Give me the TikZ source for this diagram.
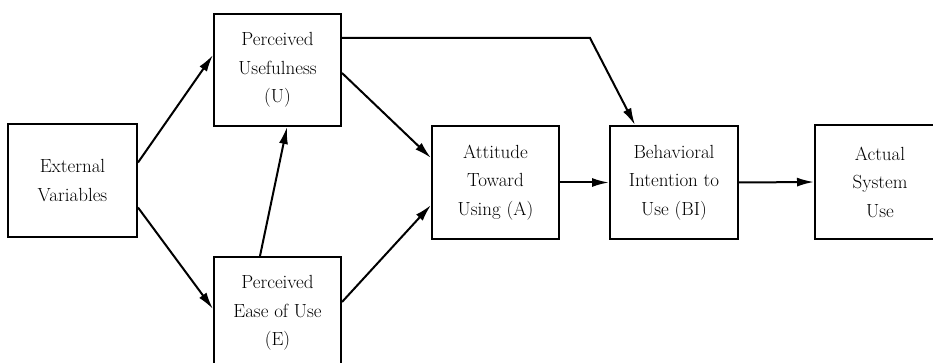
\documentclass[tikz,border=0pt]{standalone}
\usetikzlibrary{arrows.meta}
\begin{document}
\begin{tikzpicture}[x=1pt,y=-1pt,
  box/.style={draw=black,line width=2pt,align=center,inner sep=0pt,
    font=\fontsize{19}{28.5}\selectfont},
  arr/.style={line width=2pt,-{Latex[length=17pt,width=9pt]}}]
\clip (0,0) rectangle (933,363);
\node[box,minimum width=129pt,minimum height=113pt] (EV) at (72.5,180.5) {External\\Variables};
\node[box,minimum width=127pt,minimum height=112pt] (PU) at (277.5,70) {Perceived\\Usefulness\\(U)};
\node[box,minimum width=127pt,minimum height=112pt] (PE) at (277.5,313) {Perceived\\Ease of Use\\(E)};
\node[box,minimum width=127pt,minimum height=113pt] (A) at (495.5,182.5) {Attitude\\Toward\\Using (A)};
\node[box,minimum width=128pt,minimum height=113pt] (BI) at (674,182.5) {Behavioral\\Intention to\\Use (BI)};
\node[box,minimum width=130pt,minimum height=113pt] (AU) at (880,182) {Actual\\System\\Use};
\coordinate (bend) at (590,38);
\draw[arr] ([yshift=18pt]EV.east) -- ([yshift=15pt]PU.west);
\draw[arr] ([yshift=-27pt]EV.east) -- ([yshift=4pt]PE.west);
\draw[arr] ([xshift=-17.5pt]PE.north) -- ([xshift=9.5pt]PU.south);
\draw[arr] ([yshift=-3pt]PU.east) -- ([yshift=24.5pt]A.west);
\draw[arr] ([yshift=11pt]PE.east) -- ([yshift=-22.5pt]A.west);
\draw[arr] ([yshift=32pt]PU.east) -- (bend) -- ([xshift=-39pt]BI.north);
\draw[arr] (A.east) -- (BI.west);
\draw[arr] (BI.east) -- (AU.west);
\end{tikzpicture}
\end{document}
